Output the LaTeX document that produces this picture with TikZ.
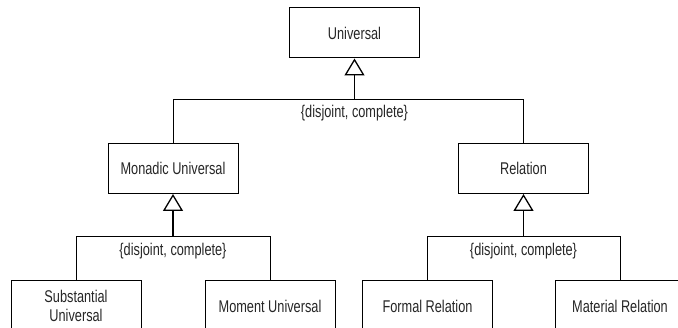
\documentclass[tikz,border=0pt]{standalone}
\usepackage{fontspec}
\setmainfont{Liberation Sans}[FakeStretch=0.75]
\usetikzlibrary{arrows.meta}
\begin{document}
\begin{tikzpicture}[x=1pt,y=-1pt,
  cls/.style={draw, line width=1pt, minimum width=130pt, minimum height=50pt,
    inner sep=0pt, align=center, font=\fontsize{17}{19.5}\selectfont, text=black!85},
  gen/.style={line width=1.8pt, -{Triangle[open, length=17pt, width=20pt, line width=1.3pt]}},
  branch/.style={line width=1pt},
  constraint/.style={font=\fontsize{17}{19}\selectfont, text=black!85}]
\useasboundingbox (0,0) rectangle (678,328);
\clip (0,0) rectangle (678,328);

% classes
\node[cls] (univ) at (354.5,33) {Universal};
\node[cls] (monadic) at (173,168.5) {Monadic Universal};
\node[cls] (rel) at (523.5,168.5) {Relation};
\node[cls] (subst) at (76,306) {Substantial\\Universal};
\node[cls] (moment) at (270,306) {Moment Universal};
\node[cls] (formal) at (427.5,306) {Formal Relation};
\node[cls] (material) at (620,306) {Material Relation};

% generalisation junctions
\coordinate (jU) at (354.5,100);
\coordinate (jM) at (173,237);
\coordinate (jR) at (523.5,237);

% Universal
\draw[gen] (jU) -- (univ.south);
\draw[branch] (monadic.north) |- (jU);
\draw[branch] (rel.north) |- (jU);
\node[constraint] (cU) at (354.5,113.5) {\{disjoint, complete\}};

% Monadic Universal
\draw[gen] (jM) -- (monadic.south);
\draw[branch] (subst.north) |- (jM);
\draw[branch] (moment.north) |- (jM);
\node[constraint] (cM) at (173,251) {\{disjoint, complete\}};

% Relation
\draw[gen] (jR) -- (rel.south);
\draw[branch] (formal.north) |- (jR);
\draw[branch] (material.north) |- (jR);
\node[constraint] (cR) at (523.5,251) {\{disjoint, complete\}};
\end{tikzpicture}
\end{document}
